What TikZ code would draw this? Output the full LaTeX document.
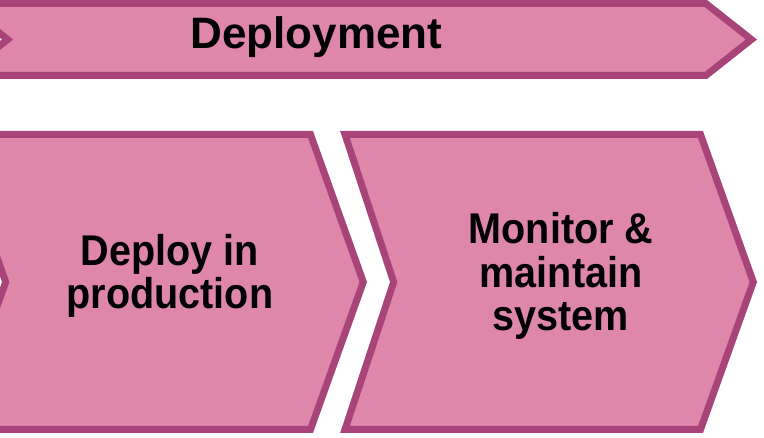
\documentclass[tikz,border=0pt]{standalone}
\usepackage{fontspec}
\setmainfont{Liberation Sans}
\newfontfamily\narrowsans[FakeStretch=0.92]{Liberation Sans}
\usepackage{tikz}
\definecolor{chevFill}{RGB}{222,135,171}
\definecolor{chevLine}{RGB}{168,68,122}

\begin{document}
\begin{tikzpicture}[x=1pt, y=-1pt,
  chev/.style={draw=chevLine, fill=chevFill, line width=7pt, line join=miter},
  lbl/.style={align=center, inner sep=0pt, text=black, font=\narrowsans\bfseries\fontsize{43}{43.5}\selectfont},
  head/.style={inner sep=0pt, text=black, font=\bfseries\fontsize{44}{48}\selectfont}]
  \useasboundingbox (0,0) rectangle (764,438);
  \clip (0,0) rectangle (764,438);
  % banner
  \draw[chev] (-38,3.5) -- (705.8,3.5) -- (751.4,39.5) -- (705.8,75.5)
    -- (-38,75.5) -- (7.6,39.5) -- cycle;
  % lower row
  \draw[chev] (-47,134.5) -- (310.5,134.5) -- (363.3,282) -- (310.5,429.5)
    -- (-47,429.5) -- (5.7,282) -- cycle;
  \draw[chev] (345,134.5) -- (700.5,134.5) -- (753.3,282) -- (700.5,429.5)
    -- (345,429.5) -- (393.7,282) -- cycle;
  \node[head, anchor=base] (dep) at (316.5,49) {Deployment};
  \node[lbl] (prod) at (170,276) {Deploy in\\production};
  \node[lbl] (mon) at (561,276) {Monitor \&\\maintain\\system};
\end{tikzpicture}
\end{document}
